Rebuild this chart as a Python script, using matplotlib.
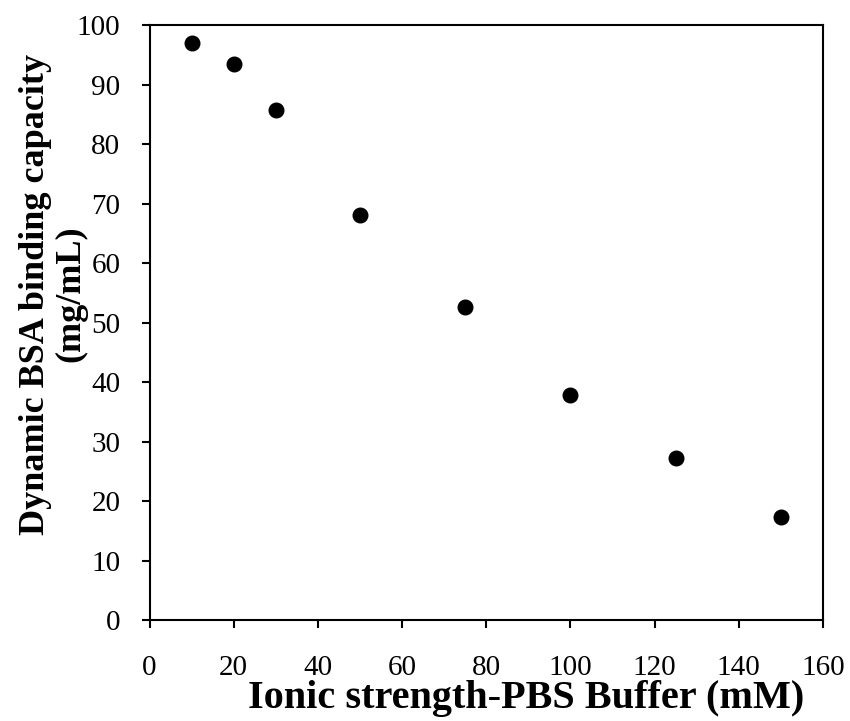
import matplotlib
matplotlib.use('Agg')
import matplotlib.pyplot as plt

ionic_strength = [10, 20, 30, 50, 75, 100, 125, 150]
binding_capacity = [97.0, 93.4, 85.8, 68.1, 52.6, 37.8, 27.3, 17.4]

x_ticks = list(range(0, 161, 20))
y_ticks = list(range(0, 101, 10))

plt.rcParams['font.family'] = ['Liberation Serif', 'DejaVu Serif']

fig = plt.figure(figsize=(8.5, 7.21), dpi=100)
ax = fig.add_axes([0.176, 0.140, 0.792, 0.825])

ax.plot(ionic_strength, binding_capacity, 'o', color='black', markersize=10.5)

ax.set_xlim(0, 160)
ax.set_ylim(0, 100)
ax.set_xticks(x_ticks)
ax.set_yticks(y_ticks)
ax.tick_params(direction='out', length=6, width=1.5, labelsize=21)
ax.tick_params(axis='x', pad=19)
ax.tick_params(axis='y', pad=15)
for sp in ax.spines.values():
    sp.set_linewidth(1.5)

ax.set_xlabel('Ionic strength-PBS Buffer (mM)', fontsize=29, fontweight='bold')
ax.xaxis.set_label_coords(0.56, -0.1)
ax.set_ylabel('Dynamic BSA binding capacity\n(mg/mL)', fontsize=26, fontweight='bold',
              linespacing=1.12)
ax.yaxis.set_label_coords(-0.092, 0.548)

fig.savefig('out.png', dpi=100)
